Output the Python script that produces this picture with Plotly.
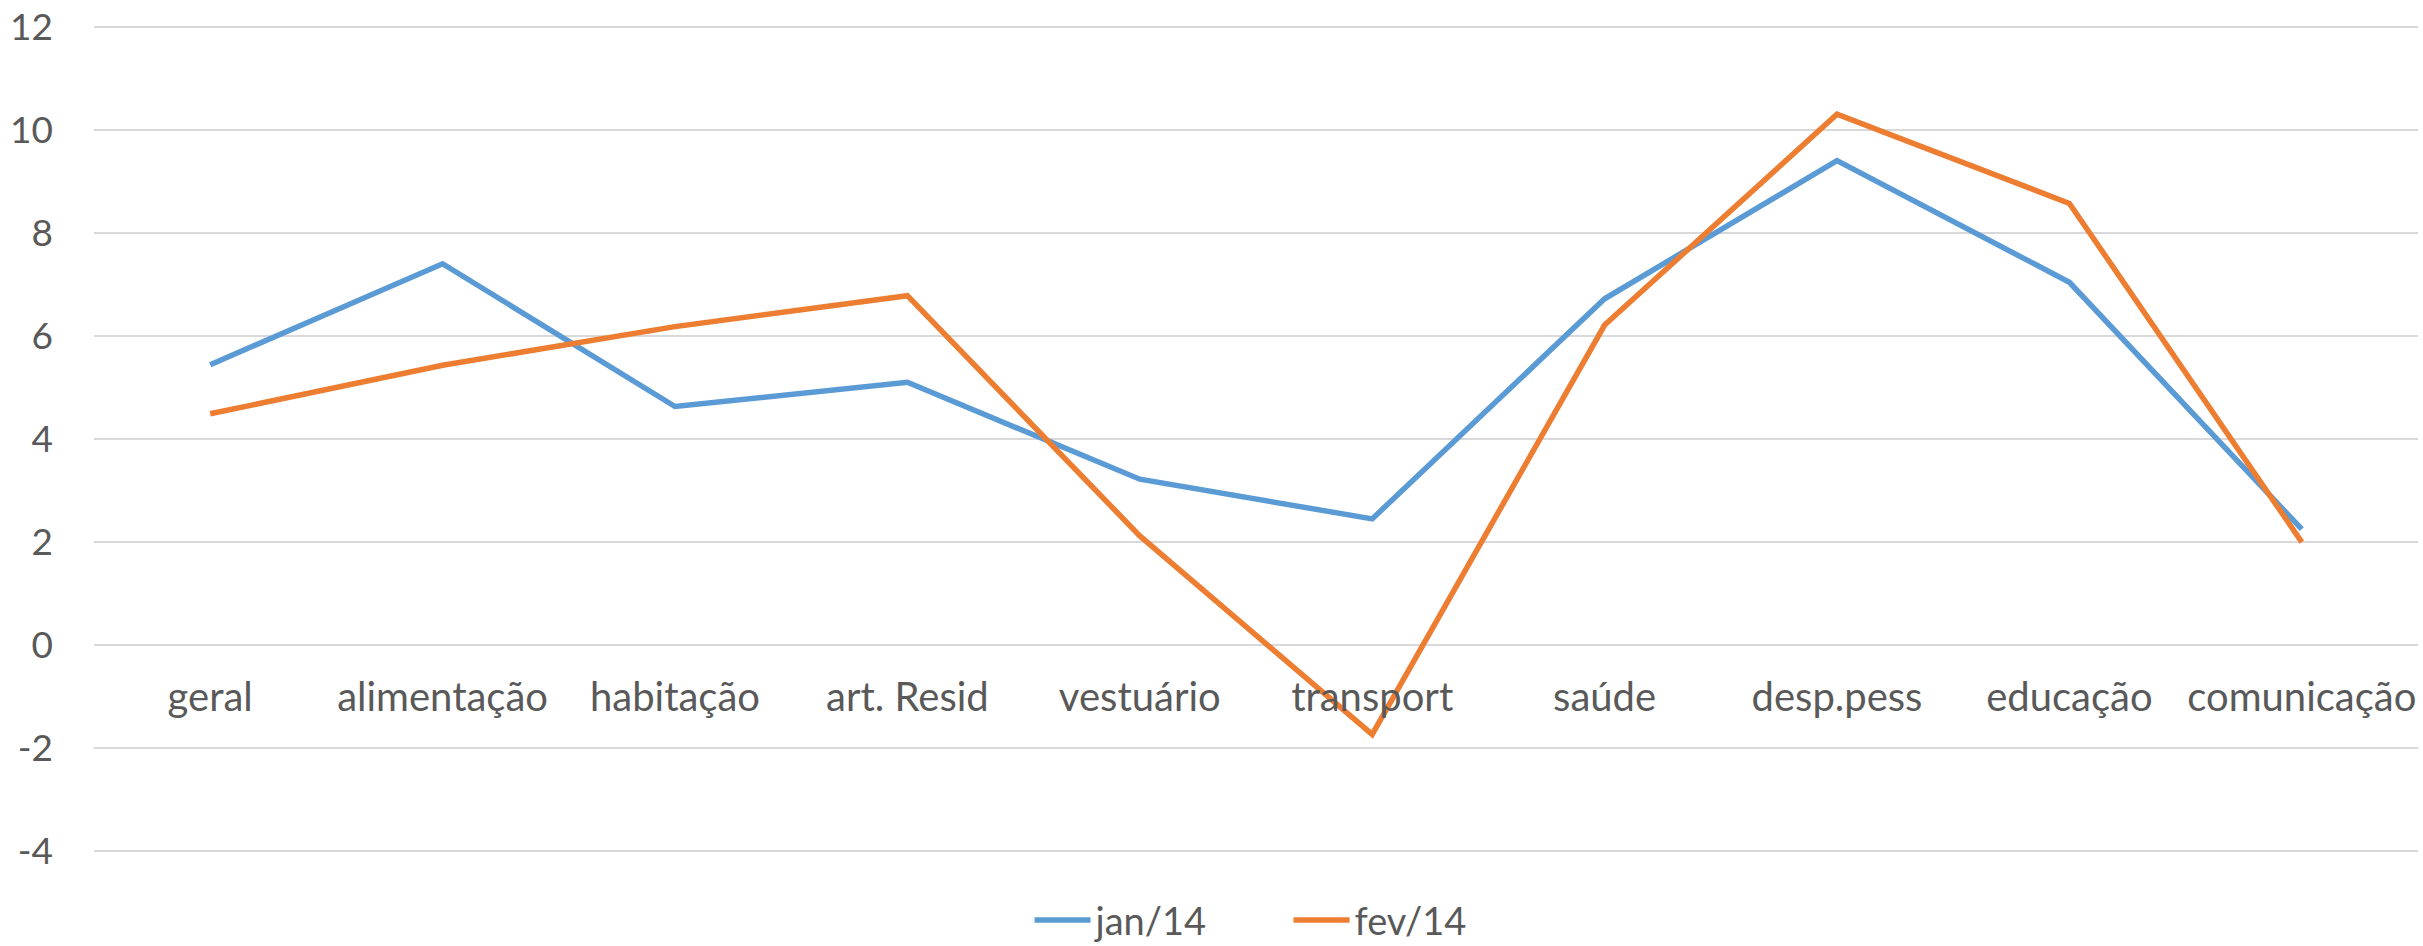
import plotly.graph_objects as go

categories = ["geral", "alimentação", "habitação", "art. Resid", "vestuário",
              "transport", "saúde", "desp.pess", "educação", "comunicação"]
jan14 = [5.44, 7.40, 4.63, 5.10, 3.22, 2.45, 6.72, 9.40, 7.04, 2.25]
fev14 = [4.49, 5.43, 6.18, 6.78, 2.12, -1.73, 6.21, 10.30, 8.57, 2.00]
y_ticks = [-4, -2, 0, 2, 4, 6, 8, 10, 12]
y_labels = ["-4", "-2", "0", "2", "4", "6", "8", "10", "12"]

TXT = "#595959"
FONT = "Lato"

fig = go.Figure()
fig.add_trace(go.Scatter(x=categories, y=jan14, mode="lines", name="jan/14",
                         line=dict(color="#5B9BD5", width=5.5)))
fig.add_trace(go.Scatter(x=categories, y=fev14, mode="lines", name="fev/14",
                         line=dict(color="#ED7D31", width=5.5)))

fig.update_layout(
    width=2423, height=946,
    margin=dict(l=94, r=5, t=24, b=92, autoexpand=False),
    plot_bgcolor="white", paper_bgcolor="white",
    font=dict(family=FONT, color=TXT, size=37),
    showlegend=True,
    legend=dict(orientation="h", x=0.514, xanchor="center", y=-0.042, yanchor="top",
                font=dict(size=38, color=TXT), itemwidth=56,
                entrywidth=188, entrywidthmode="pixels"),
    xaxis=dict(type="category", anchor="free", position=0.25 + 0.05 / 16.1,
               automargin=False,
               showgrid=False, showline=False, zeroline=False, ticks="",
               ticklabelstandoff=26, tickfont=dict(size=40, color=TXT),
               range=[-0.5, len(categories) - 0.5]),
    yaxis=dict(range=[-4.05, 12.05], tickvals=y_ticks, ticktext=y_labels,
               automargin=False, showgrid=True,
               gridcolor="#D9D9D9", gridwidth=2, zeroline=False, showline=False,
               ticks="", ticklabelstandoff=40, tickfont=dict(size=37, color=TXT)),
)

fig.write_html(
    "out.html",
    config={"displayModeBar": False},
    post_script="document.body.style.margin='0';document.body.style.overflow='hidden';",
)
